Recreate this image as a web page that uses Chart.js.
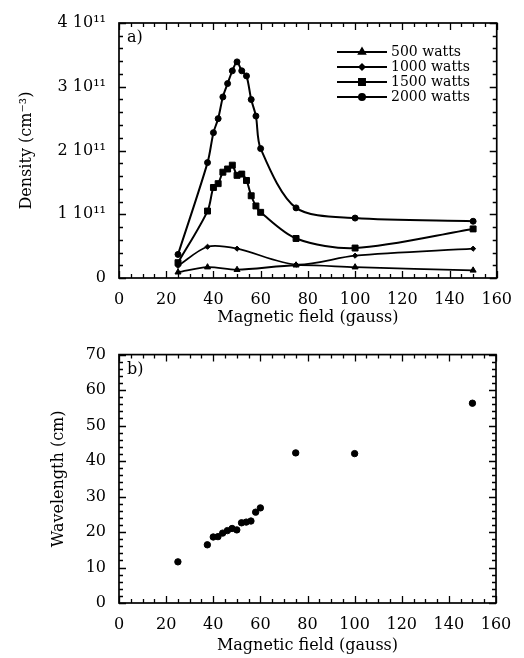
<!DOCTYPE html>
<html><head><meta charset="utf-8">
<script src="https://cdn.jsdelivr.net/npm/chart.js@4.4.1/dist/chart.umd.min.js"></script>
<style>
html,body{margin:0;padding:0;background:#fff;}
#wrap{position:relative;width:524px;height:658px;overflow:hidden;}
.box{position:absolute;left:0;}
</style></head><body>
<div id="wrap">
<div class="box" style="top:0;width:524px;height:332px"><canvas id="c1" width="524" height="332"></canvas></div>
<div class="box" style="top:332px;width:524px;height:326px"><canvas id="c2" width="524" height="326"></canvas></div>
</div>
<script>
// ---- data (density in units of 10^11 cm^-3) ----
const fieldAll = [25, 37.5, 40, 42, 44, 46, 48, 50, 52, 54, 56, 58, 60, 75, 100, 150];
const fieldFew = [25, 37.5, 50, 75, 100, 150];
const density2000 = [0.37, 1.81, 2.28, 2.50, 2.84, 3.05, 3.25, 3.39, 3.25, 3.17, 2.80, 2.54, 2.03, 1.10, 0.94, 0.89];
const density1500 = [0.24, 1.05, 1.42, 1.48, 1.66, 1.71, 1.77, 1.61, 1.63, 1.53, 1.29, 1.13, 1.03, 0.62, 0.47, 0.77];
const density1000 = [0.19, 0.49, 0.46, 0.21, 0.35, 0.46];
const density500  = [0.09, 0.17, 0.13, 0.20, 0.17, 0.12];
const wavelength  = [11.6, 16.4, 18.6, 18.7, 19.7, 20.4, 21.0, 20.6, 22.6, 22.8, 23.1, 25.6, 26.8, 42.3, 42.1, 56.3];
const seriesLabels = ['500 watts', '1000 watts', '1500 watts', '2000 watts'];
const densityTicks = [0, 1, 2, 3, 4];
const fieldTicks = [0, 20, 40, 60, 80, 100, 120, 140, 160];
const wavelengthTicks = [0, 10, 20, 30, 40, 50, 60, 70];

const SERIF = "'DejaVu Serif', 'Liberation Serif', serif";
const toXY = (xs, ys) => xs.map((x, i) => ({x, y: ys[i]}));

// frame with inward ticks on all four sides
const frameTicks = {
  id: 'frameTicks',
  afterDraw(chart, args, o) {
    const {ctx, chartArea: a} = chart;
    const xs = chart.scales.x, ys = chart.scales.y;
    ctx.save();
    ctx.strokeStyle = '#000';
    ctx.lineWidth = 1.3;
    const isMajor = (v, m) => Math.abs(v / m - Math.round(v / m)) < 1e-6;
    ctx.beginPath();
    for (let v = xs.min; v <= xs.max + 1e-9; v += o.xMinor) {
      const L = isMajor(v, o.xMajor) ? 7 : 4;
      const p = Math.round(xs.getPixelForValue(v)) + 0.5;
      ctx.moveTo(p, a.bottom); ctx.lineTo(p, a.bottom - L);
      ctx.moveTo(p, a.top); ctx.lineTo(p, a.top + L);
    }
    for (let v = ys.min; v <= ys.max + 1e-9; v += o.yMinor) {
      const L = isMajor(v, o.yMajor) ? 7 : 4;
      const p = Math.round(ys.getPixelForValue(v)) + 0.5;
      ctx.moveTo(a.left, p); ctx.lineTo(a.left + L, p);
      ctx.moveTo(a.right, p); ctx.lineTo(a.right - L, p);
    }
    ctx.stroke();
    ctx.lineWidth = 1.7;
    ctx.strokeRect(a.left, a.top, a.right - a.left, a.bottom - a.top);
    // panel letter
    ctx.fillStyle = '#000';
    ctx.font = '16px ' + SERIF;
    ctx.textBaseline = 'middle';
    ctx.textAlign = 'left';
    ctx.fillText(o.letter, a.left + 8, a.top + 15);
    ctx.restore();
  }
};

// in-plot legend: line with marker in its middle
const innerLegend = {
  id: 'innerLegend',
  afterDraw(chart, args, o) {
    if (!o.show) return;
    const {ctx, chartArea: a} = chart;
    ctx.save();
    chart.data.datasets.forEach((ds, i) => {
      const y = a.top + 29 + i * 15;
      const x0 = a.left + 218, x1 = a.left + 268;
      ctx.strokeStyle = '#000';
      ctx.lineWidth = 2;
      ctx.beginPath(); ctx.moveTo(x0, y); ctx.lineTo(x1, y); ctx.stroke();
      ctx.fillStyle = '#000';
      Chart.helpers.drawPoint(ctx, {pointStyle: ds.pointStyle, radius: ds.pointRadius, rotation: 0, borderWidth: 1}, (x0 + x1) / 2, y);
      ctx.fillStyle = '#000';
      ctx.font = '14px ' + SERIF;
      ctx.textBaseline = 'middle';
      ctx.textAlign = 'left';
      ctx.fillText(ds.label, x1 + 4, y);
    });
    ctx.restore();
  }
};

function xScale(titleBottomPad) {
  return {
    type: 'linear', min: 0, max: 160,
    afterBuildTicks: s => { s.ticks = fieldTicks.map(v => ({value: v})); },
    grid: {display: false, drawTicks: false},
    border: {display: false},
    ticks: {color: '#000', padding: 12, font: {family: SERIF, size: 16}, maxRotation: 0},
    title: {display: true, text: 'Magnetic field (gauss)', color: '#000',
            font: {family: SERIF, size: 16}, padding: {top: 0, bottom: titleBottomPad}}
  };
}

const line = (label, xs, ys, style, r, bw) => ({
  label, data: toXY(xs, ys), borderColor: '#000', backgroundColor: '#000',
  pointBackgroundColor: '#000', pointBorderColor: '#000', pointBorderWidth: 1,
  pointStyle: style, pointRadius: r, borderWidth: bw, tension: 0.3,
  showLine: true, fill: false
});

new Chart(document.getElementById('c1'), {
  type: 'scatter',
  data: {datasets: [
    line(seriesLabels[0], fieldFew, density500, 'triangle', 3.5, 1.8),
    line(seriesLabels[1], fieldFew, density1000, 'rectRot', 2.6, 1.7),
    line(seriesLabels[2], fieldAll, density1500, 'rect', 4.2, 2),
    line(seriesLabels[3], fieldAll, density2000, 'circle', 3, 2)
  ]},
  options: {
    responsive: false, animation: false, events: [],
    layout: {padding: {left: 0, right: 27, top: 23, bottom: 0}},
    plugins: {legend: {display: false}, tooltip: {enabled: false},
      frameTicks: {xMinor: 5, xMajor: 20, yMinor: 0.2, yMajor: 1, letter: 'a)'},
      innerLegend: {show: true}},
    scales: {
      x: Object.assign(xScale(5), {afterFit: s => { s.height = 54; }}),
      y: {
        type: 'linear', min: 0, max: 4,
        afterBuildTicks: s => { s.ticks = densityTicks.map(v => ({value: v})); },
        afterFit: s => { s.width = 119; },
        grid: {display: false, drawTicks: false}, border: {display: false},
        ticks: {color: '#000', padding: 13, font: {family: SERIF, size: 16},
                callback: v => v === 0 ? '0' : v + ' 10\u00B9\u00B9'},
        title: {display: true, text: 'Density (cm\u207B\u00B3)', color: '#000',
                font: {family: SERIF, size: 16}, padding: {top: 17, bottom: 0}}
      }
    }
  },
  plugins: [frameTicks, innerLegend]
});

new Chart(document.getElementById('c2'), {
  type: 'scatter',
  data: {datasets: [{
    label: 'Wavelength', data: toXY(fieldAll, wavelength),
    backgroundColor: '#000', borderColor: '#000', pointRadius: 3.2, pointStyle: 'circle', showLine: false
  }]},
  options: {
    responsive: false, animation: false, events: [],
    layout: {padding: {left: 0, right: 28, top: 14, bottom: 0}},
    plugins: {legend: {display: false}, tooltip: {enabled: false},
      frameTicks: {xMinor: 5, xMajor: 20, yMinor: 2, yMajor: 10, letter: 'b)'},
      innerLegend: {show: false}},
    scales: {
      x: Object.assign(xScale(3), {afterFit: s => { s.height = 55; }}),
      y: {
        type: 'linear', min: 0, max: 70,
        afterBuildTicks: s => { s.ticks = wavelengthTicks.map(v => ({value: v})); },
        afterFit: s => { s.width = 119; },
        grid: {display: false, drawTicks: false}, border: {display: false},
        ticks: {color: '#000', padding: 13, font: {family: SERIF, size: 16}},
        title: {display: true, text: 'Wavelength (cm)', color: '#000',
                font: {family: SERIF, size: 16}, padding: {top: 49, bottom: 0}}
      }
    }
  },
  plugins: [frameTicks, innerLegend]
});
</script>
</body></html>
